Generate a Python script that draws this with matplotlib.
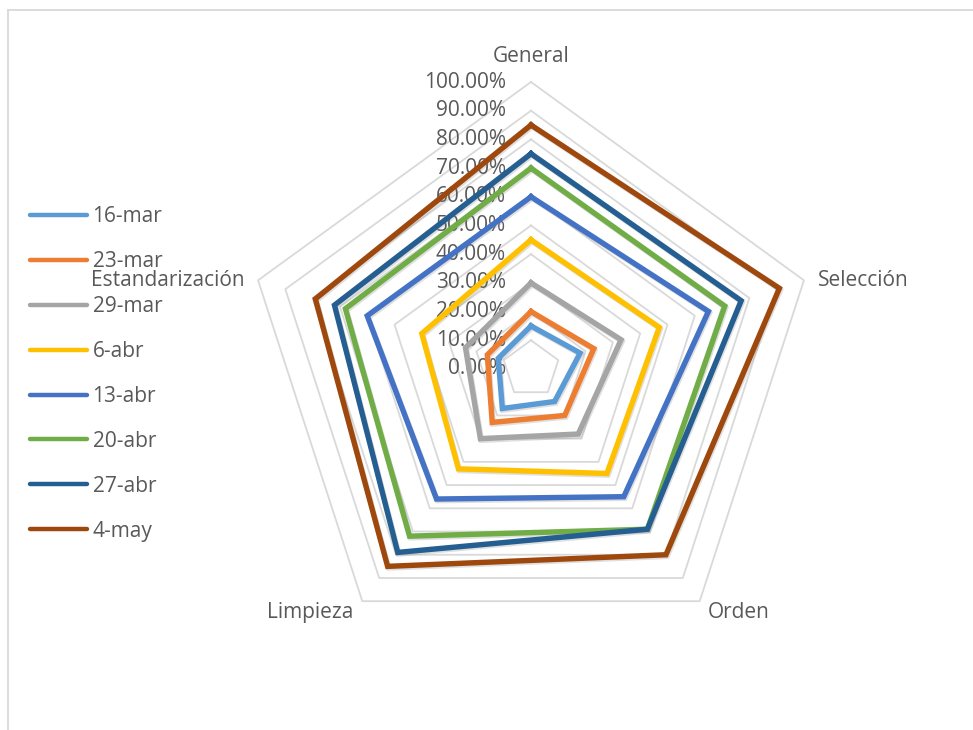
import numpy as np
import matplotlib
matplotlib.use("Agg")
import matplotlib.pyplot as plt
from matplotlib.lines import Line2D
import matplotlib.patheffects as pe

plt.rcParams['font.family'] = ['Open Sans', 'DejaVu Sans']

categories = ["General", "Selección", "Orden", "Limpieza", "Estandarización"]
series_names = ["16-mar", "23-mar", "29-mar", "6-abr", "13-abr", "20-abr", "27-abr", "4-may"]

s_16mar = [15, 18, 14, 17, 12]
s_23mar = [20, 23, 20, 23, 16]
s_29mar = [30, 33, 28, 30, 24]
s_6abr = [45, 47, 45, 43, 40]
s_13abr = [60, 65, 55, 56, 60]
s_20abr = [70, 71, 69, 72, 68]
s_27abr = [75, 77, 69, 79, 72]
s_4may = [85, 91, 80, 85, 79]
series_values = [s_16mar, s_23mar, s_29mar, s_6abr, s_13abr, s_20abr, s_27abr, s_4may]

colors = ["#5B9BD5", "#ED7D31", "#A5A5A5", "#FFC000", "#4472C4", "#70AD47", "#255E91", "#9E480E"]

ring_levels = [0, 10, 20, 30, 40, 50, 60, 70, 80, 90, 100]
tick_labels = ["0.00%", "10.00%", "20.00%", "30.00%", "40.00%", "50.00%",
               "60.00%", "70.00%", "80.00%", "90.00%", "100.00%"]

W, H = 973, 730
fig = plt.figure(figsize=(W / 100, H / 100), dpi=100)

cx, cy, R = 531, 369, 287
ax = fig.add_axes([(cx - R) / W, (H - cy - R) / H, 2 * R / W, 2 * R / H], projection='polar')
ax.set_theta_offset(np.pi / 2)
ax.set_theta_direction(-1)
ax.set_ylim(0, 100)
ax.grid(False)
ax.spines['polar'].set_visible(False)
ax.set_xticks([])
ax.set_yticks([])
ax.patch.set_alpha(0)

n = len(categories)
angles = np.linspace(0, 2 * np.pi, n, endpoint=False)
closed_angles = np.concatenate([angles, angles[:1]])

text_color = "#595959"
fs = 15

# pentagonal grid rings
for lvl in ring_levels[1:]:
    ax.plot(closed_angles, [lvl] * (n + 1), color="#D9D9D9", lw=1.3, clip_on=False, zorder=1)

# radial value labels next to the top axis
for lvl, lab in zip(ring_levels, tick_labels):
    ax.annotate(lab, xy=(0, lvl), xytext=(-18, 0), textcoords='offset points',
                ha='right', va='center', fontsize=fs, color=text_color,
                annotation_clip=False, zorder=2)

# series
shadow = [pe.SimpleLineShadow(offset=(0.8, -1.2), shadow_color='gray', alpha=0.25), pe.Normal()]
handles = []
for name, vals, col in zip(series_names, series_values, colors):
    v = list(vals) + [vals[0]]
    ax.plot(closed_angles, v, color=col, lw=3.9, solid_joinstyle='miter',
            clip_on=False, zorder=3, label=name, path_effects=shadow)
    handles.append(Line2D([0], [0], color=col, lw=3.2, solid_capstyle='round'))

# category labels around the pentagon
label_specs = [
    (109.4, 'center', (0, -1)),
    (105, 'left', (0, -3)),
    (105, 'left', (0, 0)),
    (105, 'right', (0, 0)),
    (105, 'right', (0, -3)),
]
for ang, cat, (r, ha, off) in zip(angles, categories, label_specs):
    ax.annotate(cat, xy=(ang, r), xytext=off, textcoords='offset points',
                ha=ha, va='center', fontsize=fs, color=text_color, annotation_clip=False)

leg = fig.legend(handles, series_names, loc='upper left',
                 bbox_to_anchor=(30 / W, 1 - 206 / H), frameon=False,
                 fontsize=fs, handlelength=2.75, handletextpad=0.25,
                 labelspacing=1.15, borderpad=0, borderaxespad=0)
for t in leg.get_texts():
    t.set_color(text_color)

# chart frame
fig.add_artist(Line2D([8 / W, 8 / W], [0, 1 - 10 / H], color="#D9D9D9", lw=1.3,
                      transform=fig.transFigure))
fig.add_artist(Line2D([8 / W, 1], [1 - 10 / H, 1 - 10 / H], color="#D9D9D9", lw=1.3,
                      transform=fig.transFigure))

fig.savefig("out.png", dpi=100, facecolor="white")
